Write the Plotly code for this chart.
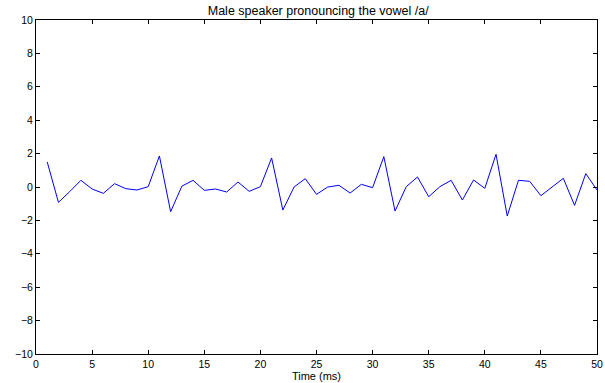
import plotly.graph_objects as go

time_ms = list(range(1, 51))
amplitude = [1.50, -0.92, -0.28, 0.40, -0.12, -0.38, 0.20, -0.10, -0.18, 0.02,
             1.86, -1.48, 0.05, 0.40, -0.20, -0.12, -0.30, 0.30, -0.26, 0.02,
             1.74, -1.38, 0.00, 0.50, -0.44, 0.00, 0.10, -0.36, 0.16, -0.04,
             1.82, -1.44, 0.02, 0.60, -0.58, 0.02, 0.40, -0.78, 0.42, -0.08,
             1.96, -1.74, 0.40, 0.34, -0.52, 0.02, 0.52, -1.10, 0.80, -0.18]
x_ticks = [0, 5, 10, 15, 20, 25, 30, 35, 40, 45, 50]
y_ticks = [-10, -8, -6, -4, -2, 0, 2, 4, 6, 8, 10]

fig = go.Figure()
fig.add_trace(go.Scatter(x=time_ms, y=amplitude, mode="lines",
                         line=dict(color="#0000ff", width=1)))

axis_common = dict(showgrid=False, zeroline=False, showline=True, linecolor="black",
                   linewidth=1, mirror="ticks", ticks="inside", ticklen=4,
                   tickcolor="black", tickwidth=1, automargin=False,
                   tickfont=dict(family="Liberation Sans", size=10.5, color="black"))

fig.update_layout(
    width=605, height=383,
    margin=dict(l=36, r=8, t=20, b=29),
    paper_bgcolor="white", plot_bgcolor="white",
    showlegend=False,
    title=dict(text="Male speaker pronouncing the vowel /a/", x=0.526, xanchor="center",
               y=0.972, yanchor="middle",
               font=dict(family="Liberation Sans", size=12.5, color="black")),
    xaxis=dict(range=[0, 50], tickvals=x_ticks,
               title=dict(text="Time (ms)", standoff=2,
                          font=dict(family="Liberation Sans", size=11, color="black")),
               **axis_common),
    yaxis=dict(range=[-10, 10], tickvals=y_ticks, ticktext=[("\u2212" + str(-v)) if v < 0 else str(v) for v in y_ticks],
               **axis_common),
)

fig.write_html("out.html")
